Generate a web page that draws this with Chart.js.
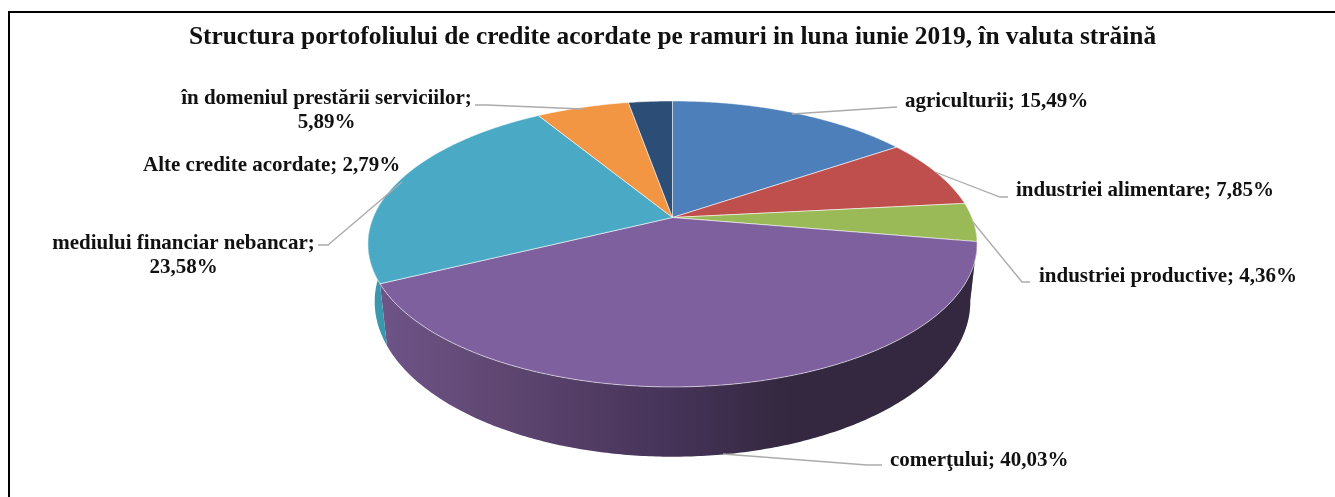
<!DOCTYPE html>
<html>
<head>
<meta charset="utf-8">
<title>Structura portofoliului de credite</title>
<script src="https://cdn.jsdelivr.net/npm/chart.js@4"></script>
<style>
    html, body { margin: 0; padding: 0; background: #fff; }
    canvas { display: block; }
</style>
</head>
<body>
<canvas id="graficoRamuri" width="1335" height="497"></canvas>
<script>
// dados do grafico
const titlu = 'Structura portofoliului de credite acordate pe ramuri in luna iunie 2019, în valuta străină';
const ramuri = [
    'agriculturii',
    'industriei alimentare',
    'industriei productive',
    'comerţului',
    'mediului financiar nebancar',
    'în domeniul prestării serviciilor',
    'Alte credite acordate'
];
const valori = [15.49, 7.85, 4.36, 40.03, 23.58, 5.89, 2.79];
const culori = ['#4d7fba', '#bf4f4c', '#9aba58', '#7f609e', '#4aa9c4', '#f39643', '#2c4d75'];
const culoriLaterale = ['#3f6797', '#9a403e', '#7c9647', null, '#3a97ad', '#c67838', '#233e5e'];

// pozitia etichetelor: x, y, aliniere, al doilea rand separat
const etichete = [
    { x: 905, y: 102, align: 'left' },
    { x: 1016, y: 191, align: 'left' },
    { x: 1039, y: 277, align: 'left' },
    { x: 890, y: 461, align: 'left' },
    { x: 183.5, y: 244, align: 'center', rupt: true },
    { x: 326.5, y: 99, align: 'center', rupt: true },
    { x: 143, y: 166, align: 'left' }
];
const linii = [
    [[897, 107], [792, 114]],
    [[1008, 197], [1000, 197], [935, 172]],
    [[1030, 282], [1022, 282], [973, 222]],
    [[882, 465], [867, 465], [723, 454]],
    [[318, 245], [328, 245], [402, 182]],
    [[475, 105], [487, 105], [583, 109]]
];

// proiectia discului: sus si jos
const sus = { cx: 672.5, cy: 217.5, R: 299.3, S: 138.1, k: 0.185 };
const jos = { cx: 672.5, cy: 274, R: 293, S: 150, k: 0.179 };

function proiectie(plan, unghi) {
    const u = Math.cos(unghi), v = Math.sin(unghi);
    const w = 1 - plan.k * v;
    return [plan.cx + plan.R * u / w, plan.cy + plan.S * v / w];
}

function margine(ctx, plan, a0, a1, moveFirst) {
    const pasi = Math.max(2, Math.ceil(Math.abs(a1 - a0) / 0.01));
    for (let i = 0; i <= pasi; i++) {
        const p = proiectie(plan, a0 + (a1 - a0) * i / pasi);
        if (i === 0 && moveFirst) ctx.moveTo(p[0], p[1]);
        else ctx.lineTo(p[0], p[1]);
    }
}

// peretele lateral, doar partea din fata (unghi intre -10 si 190 de grade)
function deseneazaPerete(ctx, arc, i) {
    const lim0 = -10 * Math.PI / 180, lim1 = 190 * Math.PI / 180;
    const a = Math.max(arc.startAngle, lim0), b = Math.min(arc.endAngle, lim1);
    if (b <= a) return;
    ctx.beginPath();
    margine(ctx, sus, a, b, true);
    margine(ctx, jos, b, a, false);
    ctx.closePath();
    if (culoriLaterale[i]) {
        ctx.fillStyle = culoriLaterale[i];
    } else {
        const g = ctx.createLinearGradient(372, 0, 790, 0);
        g.addColorStop(0, '#6f5589');
        g.addColorStop(0.3, '#5f4772');
        g.addColorStop(0.7, '#47345a');
        g.addColorStop(1, '#33283f');
        ctx.fillStyle = g;
    }
    ctx.fill();
}

function deseneazaFata(ctx, arc, i) {
    const p = proiectie(sus, arc.startAngle);
    ctx.beginPath();
    ctx.moveTo(sus.cx, sus.cy);
    ctx.lineTo(p[0], p[1]);
    margine(ctx, sus, arc.startAngle, arc.endAngle, false);
    ctx.closePath();
    ctx.fillStyle = culori[i];
    ctx.fill();
    ctx.strokeStyle = 'rgba(255,255,255,0.55)';
    ctx.lineWidth = 1;
    ctx.stroke();
}

const pie3d = {
    id: 'pie3d',
    beforeDraw(chart) {
        // chenarul: doar sus si stanga
        const ctx = chart.ctx;
        ctx.save();
        ctx.fillStyle = '#fff';
        ctx.fillRect(0, 0, chart.width, chart.height);
        ctx.fillStyle = '#000';
        ctx.fillRect(8, 11, chart.width - 8, 2);
        ctx.fillRect(8, 11, 2, chart.height - 11);
        ctx.restore();
    },
    beforeDatasetDraw(chart, args) {
        const ctx = chart.ctx;
        const arce = args.meta.data;
        ctx.save();
        arce.forEach((arc, i) => deseneazaPerete(ctx, arc, i));
        arce.forEach((arc, i) => deseneazaFata(ctx, arc, i));
        ctx.restore();
        return false;
    },
    afterDatasetsDraw(chart) {
        const ctx = chart.ctx;
        ctx.save();
        ctx.strokeStyle = '#ababab';
        ctx.lineWidth = 1.3;
        linii.forEach((l) => {
            ctx.beginPath();
            l.forEach((p, j) => j ? ctx.lineTo(p[0], p[1]) : ctx.moveTo(p[0], p[1]));
            ctx.stroke();
        });
        ctx.fillStyle = '#111';
        ctx.font = 'bold 21px "Liberation Serif"';
        ctx.textBaseline = 'middle';
        etichete.forEach((e, i) => {
            const valoare = valori[i].toFixed(2).replace('.', ',') + '%';
            ctx.textAlign = e.align;
            if (e.rupt) {
                ctx.fillText(ramuri[i] + ';', e.x, e.y);
                ctx.fillText(valoare, e.x, e.y + 24);
            } else {
                ctx.fillText(ramuri[i] + '; ' + valoare, e.x, e.y);
            }
        });
        ctx.restore();
    }
};

new Chart(document.getElementById('graficoRamuri'), {
    type: 'pie',
    data: {
        labels: ramuri,
        datasets: [{ data: valori, backgroundColor: culori, borderWidth: 0 }]
    },
    plugins: [pie3d],
    options: {
        responsive: false,
        animation: false,
        layout: { padding: { left: 10 } },
        plugins: {
            legend: { display: false },
            tooltip: { enabled: false },
            title: {
                display: true,
                text: titlu,
                color: '#111',
                font: { family: '"Liberation Serif"', size: 25.4, weight: 'bold' },
                padding: { top: 22, bottom: 0 }
            }
        }
    }
});
</script>
</body>
</html>
